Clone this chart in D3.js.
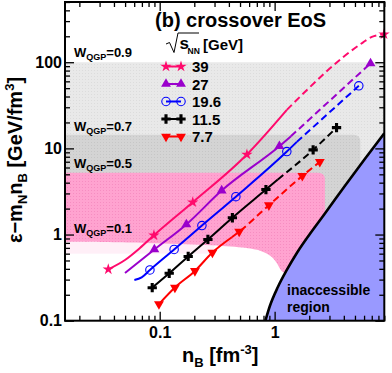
<!DOCTYPE html>
<html><head><meta charset="utf-8">
<script src="https://cdn.jsdelivr.net/npm/d3@7"></script>
<style>
html,body{margin:0;padding:0;background:#fff;}
svg{display:block;}
text{font-family:"Liberation Sans",Arial,Helvetica,sans-serif;font-weight:bold;fill:#000;}
</style>
</head><body>
<svg id="c" width="392" height="373"></svg>
<script>
// ---------------- data ----------------
const energies = ["39", "27", "19.6", "11.5", "7.7"];

// hydro trajectories: [n_B (fm^-3), eps - m_N n_B (GeV/fm^3)]
const line39 = [[0.0357,0.395],[0.0499,0.507],[0.0673,0.698],[0.0891,0.98],[0.194,2.37],[0.574,8.49],[1.277,28.0]];
const dash39 = [[1.277,28.0],[5.85,169],[7.01,197],[8.95,211]];
const mark39 = [[0.0357,0.395],[0.0891,0.98],[0.194,2.37],[0.574,8.49],[8.95,211]];

const line27 = [[0.0499,0.358],[0.0899,0.671],[0.1706,1.31],[0.346,3.24],[1.10,10.6],[1.384,13.8]];
const dash27 = [[1.384,13.8],[6.83,97.1]];
const mark27 = [[0.0899,0.671],[0.1706,1.31],[0.346,3.24],[1.10,10.6],[6.83,97.1]];

const line196 = [[0.0602,0.297],[0.0697,0.319],[0.0822,0.388],[0.1335,0.671],[0.233,1.27],[0.460,2.75],[1.277,9.18],[1.56,11.9]];
const dash196 = [[1.56,11.9],[5.40,53.2]];
const mark196 = [[0.0822,0.388],[0.1335,0.671],[0.233,1.27],[0.460,2.75],[1.277,9.18],[5.40,53.2]];

const line115 = [[0.0861,0.2415],[0.121,0.355],[0.177,0.557],[0.2627,0.877],[0.429,1.567],[0.840,3.33],[1.067,4.36]];
const dash115 = [[1.067,4.36],[2.163,9.61],[3.457,17.4]];
const mark115 = [[0.0861,0.2415],[0.121,0.355],[0.177,0.557],[0.2627,0.877],[0.429,1.567],[0.840,3.33],[2.163,9.61],[3.457,17.4]];

const line77 = [[0.0985,0.156],[0.1357,0.243],[0.2025,0.378],[0.2875,0.619],[0.4246,0.93]];
const dash77 = [[0.4246,0.93],[0.4915,1.08],[0.891,2.19],[1.742,4.79],[2.473,6.97]];
const mark77 = [[0.0985,0.156],[0.1357,0.243],[0.2025,0.378],[0.2875,0.619],[0.4915,1.08],[0.891,2.19],[1.742,4.79],[2.473,6.97]];

// boundary of the inaccessible region
const boundary = [[0.831,0.1],[0.909,0.148],[1.067,0.246],[1.277,0.388],[1.561,0.611],[2.025,1.016],[2.68,1.69],[4.08,3.66],[6.09,7.55],[9,15]];

// W_QGP bands (eps ranges, right n_B limits)
const wLabels = ["0.9","0.7","0.5","0.1"];
const wLabelEps = [115, 15.9, 5.87, 1.03];
const bandLight = [3, 100];
const bandMid = [1.5, 14.4];
const bandMidRight = 5.57;
const bandPink = [0.827, 5.2];
const bandPinkRight = 2.74;
const pinkLowerEdge = [[1.30,0.36],[1.156,0.358],[1.067,0.4555],[0.946,0.564],[0.774,0.653],[0.551,0.708],[0.2735,0.757],[0.0822,0.799],[0.015,0.827]];
const pinkFaint = [0.6, 0.827];

// axis ticks
const xMajor = [0.1, 1];
const xTickLabels = ["0.1", "1"];
const xMinor = [0.02,0.03,0.04,0.05,0.06,0.07,0.08,0.09,0.2,0.3,0.4,0.5,0.6,0.7,0.8,0.9,2,3,4,5,6,7,8,9];
const yMajor = [0.1, 1, 10, 100];
const yTickLabels = ["0.1", "1", "10", "100"];
const yMinor = [0.2,0.3,0.4,0.5,0.6,0.7,0.8,0.9,2,3,4,5,6,7,8,9,20,30,40,50,60,70,80,90,200,300,400,500];

// ---------------- styles ----------------
const colors = ["#ff0a6c", "#9a00cc", "#0000ff", "#000000", "#ff0000"];
const series = [
  {line: line39, dash: dash39, mark: mark39, sym: "star"},
  {line: line27, dash: dash27, mark: mark27, sym: "tri"},
  {line: line196, dash: dash196, mark: mark196, sym: "circ"},
  {line: line115, dash: dash115, mark: mark115, sym: "cross"},
  {line: line77, dash: dash77, mark: mark77, sym: "tridown"}
];

// ---------------- drawing ----------------
const svg = d3.select("#c");
const M = {l: 65, r: 384.3, t: 2, b: 320.7};
const x = d3.scaleLog().domain([0.015, 9]).range([M.l, M.r]);
const y = d3.scaleLog().domain([0.1, 500]).range([M.b, M.t]);

const defs = svg.append("defs");
defs.append("clipPath").attr("id", "clip").append("rect")
  .attr("x", M.l).attr("y", M.t).attr("width", M.r - M.l).attr("height", M.b - M.t);
function pat(id, base, dot) {
  const p = defs.append("pattern").attr("id", id).attr("width", 3).attr("height", 3)
    .attr("patternUnits", "userSpaceOnUse");
  p.append("rect").attr("width", 3).attr("height", 3).attr("fill", base);
  p.append("rect").attr("x", 1).attr("y", 1).attr("width", 1).attr("height", 1).attr("fill", dot);
}
pat("pLight", "#e9e9e9", "#dcdcdc");
pat("pMid", "#d4d4d4", "#c6c6c6");
pat("pPink", "#ffa3d0", "#f68dc1");

const area = svg.append("g").attr("clip-path", "url(#clip)");
const X0 = x.domain()[0], X1 = x.domain()[1];
const R = 7;

// light gray band
area.append("rect").attr("x", x(X0)).attr("width", x(X1) - x(X0))
  .attr("y", y(bandLight[1])).attr("height", y(bandLight[0]) - y(bandLight[1]))
  .attr("fill", "url(#pLight)");

// mid gray band with rounded corner
{
  const x0 = x(X0), x1 = x(bandMidRight), yt = y(bandMid[1]), yb = y(bandMid[0]);
  area.append("path").attr("fill", "url(#pMid)")
    .attr("d", `M${x0},${yb}V${yt}H${x1 - R}Q${x1},${yt} ${x1},${yt + R}V${yb}Z`);
}

// faint pink band below pink
area.append("rect").attr("x", x(X0)).attr("width", x(0.3) - x(X0))
  .attr("y", y(pinkFaint[1])).attr("height", y(pinkFaint[0]) - y(pinkFaint[1]))
  .attr("fill", "#ffd6ea").attr("opacity", 0.4);

// pink band
{
  const x0 = x(X0), x1 = x(bandPinkRight), yt = y(bandPink[1]);
  const lower = d3.line().x(d => x(d[0])).y(d => y(d[1])).curve(d3.curveBasis)(pinkLowerEdge);
  area.append("path").attr("fill", "url(#pPink)")
    .attr("d", `M${x0},${yt}H${x1 - R}Q${x1},${yt} ${x1},${yt + R}V${y(1.2)}` + "L" + lower.slice(1) + "Z");
}

// inaccessible region
const bLine = d3.line().x(d => x(d[0])).y(d => y(d[1])).curve(d3.curveMonotoneX);
area.append("path").attr("fill", "#9999ff")
  .attr("d", bLine(boundary) + `L${x(X1)},${y(0.1)}Z`);
area.append("path").attr("fill", "none").attr("stroke", "#000").attr("stroke-width", 2.6)
  .attr("d", bLine(boundary));

area.append("text").attr("x", 287).attr("y", 295).attr("font-size", 14).text("inaccessible");
area.append("text").attr("x", 287).attr("y", 312).attr("font-size", 14).text("region");

// W labels
wLabels.forEach((w, i) => {
  const t = svg.append("text").attr("x", M.l + 9).attr("y", y(wLabelEps[i])).attr("font-size", 13);
  t.append("tspan").text("W");
  t.append("tspan").attr("font-size", 9).attr("dy", 3).text("QGP");
  t.append("tspan").attr("dy", -3).text("=" + w);
});

// trajectories
const lg = d3.line().x(d => x(d[0])).y(d => y(d[1])).curve(d3.curveMonotoneX);
const symPath = {
  star: d3.symbol(d3.symbolStar, 40)(),
  tri: d3.symbol(d3.symbolTriangle, 42)(),
  tridown: d3.symbol(d3.symbolTriangle, 42)(),
  circ: d3.symbol(d3.symbolCircle, 56)(),
  cross: d3.symbol(d3.symbolCross, 48)()
};
function drawMarker(g, sym, col, px, py) {
  const p = g.append("path").attr("d", symPath[sym])
    .attr("transform", `translate(${px},${py})` + (sym === "tridown" ? " rotate(180)" : ""));
  if (sym === "circ") p.attr("fill", "none").attr("stroke", col).attr("stroke-width", 1.1);
  else p.attr("fill", col);
}
const traj = svg.append("g");
series.forEach((s, i) => {
  traj.append("path").attr("d", lg(s.line)).attr("fill", "none")
    .attr("stroke", colors[i]).attr("stroke-width", 2);
  traj.append("path").attr("d", lg(s.dash)).attr("fill", "none")
    .attr("stroke", colors[i]).attr("stroke-width", 2).attr("stroke-dasharray", "7,4");
});
series.forEach((s, i) => {
  s.mark.forEach(d => drawMarker(traj, s.sym, colors[i], x(d[0]), y(d[1])));
});

// legend
const leg = svg.append("g");
leg.append("path").attr("fill", "none").attr("stroke", "#000").attr("stroke-width", 1)
  .attr("d", "M166,44L169.5,42.5L174,52.5L178,33H199");
leg.append("text").attr("x", 179.5).attr("y", 49).attr("font-size", 17)
  .attr("font-family", "'Liberation Serif',serif").attr("font-weight", "normal").text("s");
leg.append("text").attr("x", 187.5).attr("y", 53.5).attr("font-size", 8.5)
  .attr("font-family", "'Liberation Serif',serif").attr("font-weight", "normal").text("NN");
leg.append("text").attr("x", 203).attr("y", 50).attr("font-size", 15).text("[GeV]");
energies.forEach((e, i) => {
  const cy = 66.5 + i * 17.5;
  leg.append("line").attr("x1", 166).attr("x2", 181).attr("y1", cy).attr("y2", cy)
    .attr("stroke", colors[i]).attr("stroke-width", 2);
  drawMarker(leg, series[i].sym, colors[i], 166, cy);
  drawMarker(leg, series[i].sym, colors[i], 181, cy);
  leg.append("text").attr("x", 192).attr("y", cy + 5.5).attr("font-size", 15).text(e);
});

// title
svg.append("text").attr("x", 155).attr("y", 27).attr("font-size", 20).text("(b) crossover EoS");

// axes
function styleAxis(g) {
  g.select(".domain").remove();
  g.selectAll(".tick line").attr("stroke", "#000").attr("stroke-width", 1.3);
  g.selectAll(".tick text").attr("font-size", 16).attr("font-weight", "bold")
    .attr("font-family", "'Liberation Sans',Arial,sans-serif").attr("fill", "#000");
  g.attr("font-family", null).attr("font-size", null);
}
const TL = 9, TM = 5;
svg.append("g").attr("transform", `translate(0,${M.b})`)
  .call(d3.axisBottom(x).tickValues(xMajor).tickFormat((d, i) => xTickLabels[i]).tickSizeInner(-TL).tickSizeOuter(0).tickPadding(6)).call(styleAxis);
svg.append("g").attr("transform", `translate(0,${M.b})`)
  .call(d3.axisBottom(x).tickValues(xMinor).tickFormat("").tickSizeInner(-TM).tickSizeOuter(0)).call(styleAxis);
svg.append("g").attr("transform", `translate(0,${M.t})`)
  .call(d3.axisTop(x).tickValues(xMajor).tickFormat("").tickSizeInner(-TL).tickSizeOuter(0)).call(styleAxis);
svg.append("g").attr("transform", `translate(0,${M.t})`)
  .call(d3.axisTop(x).tickValues(xMinor).tickFormat("").tickSizeInner(-TM).tickSizeOuter(0)).call(styleAxis);
svg.append("g").attr("transform", `translate(${M.l},0)`)
  .call(d3.axisLeft(y).tickValues(yMajor).tickFormat((d, i) => yTickLabels[i]).tickSizeInner(-TL).tickSizeOuter(0).tickPadding(3)).call(styleAxis);
svg.append("g").attr("transform", `translate(${M.l},0)`)
  .call(d3.axisLeft(y).tickValues(yMinor).tickFormat("").tickSizeInner(-TM).tickSizeOuter(0)).call(styleAxis);
svg.append("g").attr("transform", `translate(${M.r},0)`)
  .call(d3.axisRight(y).tickValues(yMajor).tickFormat("").tickSizeInner(-TL).tickSizeOuter(0)).call(styleAxis);
svg.append("g").attr("transform", `translate(${M.r},0)`)
  .call(d3.axisRight(y).tickValues(yMinor).tickFormat("").tickSizeInner(-TM).tickSizeOuter(0)).call(styleAxis);

svg.append("rect").attr("x", M.l).attr("y", M.t).attr("width", M.r - M.l).attr("height", M.b - M.t)
  .attr("fill", "none").attr("stroke", "#000").attr("stroke-width", 2);

// axis titles
{
  const t = svg.append("text").attr("x", 182).attr("y", 362).attr("font-size", 20);
  t.append("tspan").text("n");
  t.append("tspan").attr("font-size", 13).attr("dy", 5).text("B");
  t.append("tspan").attr("dy", -5).text(" [fm");
  t.append("tspan").attr("font-size", 13).attr("dy", -8).text("-3");
  t.append("tspan").attr("dy", 8).text("]");
}
{
  const t = svg.append("text").attr("transform", "translate(22,160) rotate(-90)")
    .attr("text-anchor", "middle").attr("font-size", 20);
  t.append("tspan").text("ε−m");
  t.append("tspan").attr("font-size", 13).attr("dy", 5).text("N");
  t.append("tspan").attr("dy", -5).text("n");
  t.append("tspan").attr("font-size", 13).attr("dy", 5).text("B");
  t.append("tspan").attr("dy", -5).text(" [GeV/fm");
  t.append("tspan").attr("font-size", 13).attr("dy", -8).text("3");
  t.append("tspan").attr("dy", 8).text("]");
}
</script>
</body></html>
